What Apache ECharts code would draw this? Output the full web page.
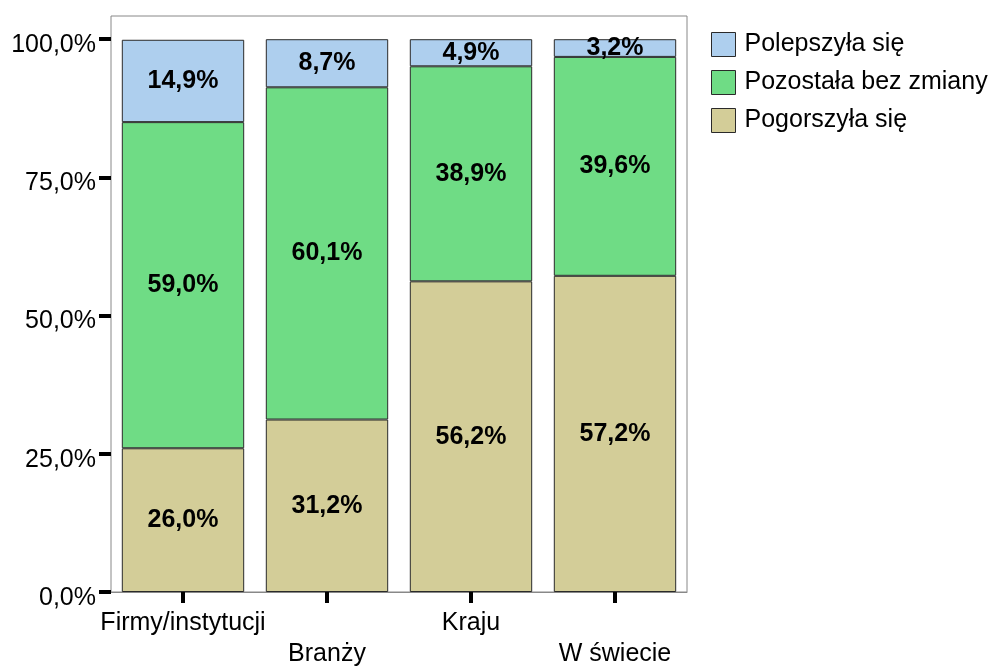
<!DOCTYPE html>
<html>
<head>
<meta charset="utf-8">
<script src="https://cdn.jsdelivr.net/npm/echarts@6/dist/echarts.min.js"></script>
<style>
  html, body { margin: 0; padding: 0; background: #fff; }
  #main { width: 995px; height: 666px; }
</style>
</head>
<body>
<div id="main"></div>
<script>
// kategorie i wartości
var categories = ["Firmy/instytucji", "Branży", "Kraju", "W świecie"];
var pogorszyla = [26.0, 31.2, 56.2, 57.2];
var pozostala = [59.0, 60.1, 38.9, 39.6];
var polepszyla = [14.9, 8.7, 4.9, 3.2];
var yTicks = [0, 25, 50, 75, 100];

var FONT = "Liberation Sans, Arial, sans-serif";

function pct(v) {
  return Number(v).toFixed(1).replace(".", ",") + "%";
}

function makeSeries(name, data, color) {
  return {
    name: name,
    type: "bar",
    stack: "total",
    barCategoryGap: "15%",
    data: data,
    itemStyle: { color: color, borderColor: "#2a2a2a", borderWidth: 1 },
    label: {
      show: true,
      position: "inside",
      formatter: function (p) { return pct(p.value); },
      color: "#000",
      fontFamily: FONT,
      fontWeight: "bold",
      fontSize: 25
    },
    emphasis: { disabled: true }
  };
}

var myChart = echarts.init(document.getElementById("main"));
myChart.setOption({
  animation: false,
  backgroundColor: "#fff",
  grid: {
    left: 111,
    right: 308,
    top: 16,
    bottom: 74,
    containLabel: false,
    outerBoundsMode: "none",
    show: true,
    borderColor: "#888",
    borderWidth: 1,
    backgroundColor: "#fff"
  },
  legend: {
    orient: "vertical",
    left: 711,
    top: 32,
    padding: 0,
    itemWidth: 24,
    itemHeight: 24,
    itemGap: 13,
    icon: "rect",
    data: ["Polepszyła się", "Pozostała bez zmiany", "Pogorszyła się"],
    itemStyle: { borderColor: "#2a2a2a", borderWidth: 1 },
    textStyle: { fontFamily: FONT, fontSize: 25, color: "#000", padding: [0, 0, 0, 4] }
  },
  xAxis: {
    type: "category",
    data: categories,
    axisLine: { show: true, lineStyle: { color: "#888", width: 1 } },
    axisTick: {
      show: true,
      alignWithLabel: true,
      length: 11,
      lineStyle: { color: "#000", width: 4 }
    },
    axisLabel: {
      interval: 0,
      margin: 16,
      lineHeight: 31,
      color: "#000",
      fontFamily: FONT,
      fontSize: 25,
      formatter: function (v, i) { return i % 2 ? "\n" + v : v; }
    }
  },
  yAxis: {
    type: "value",
    min: 0,
    max: 104.2,
    interval: 25,
    splitLine: { show: false },
    axisLine: { show: false },
    axisTick: {
      show: true,
      length: 12,
      customValues: yTicks,
      lineStyle: { color: "#000", width: 4 }
    },
    axisLabel: {
      customValues: yTicks,
      margin: 15,
      color: "#000",
      fontFamily: FONT,
      fontSize: 25,
      formatter: function (v) { return "{t|" + pct(v) + "}"; },
      rich: {
        t: { fontFamily: FONT, fontSize: 25, color: "#000", padding: [12, 0, 0, 0] }
      }
    }
  },
  series: [
    makeSeries("Pogorszyła się", pogorszyla, "#d3cd98"),
    makeSeries("Pozostała bez zmiany", pozostala, "#6fdc85"),
    makeSeries("Polepszyła się", polepszyla, "#aecfee")
  ]
});
</script>
</body>
</html>
